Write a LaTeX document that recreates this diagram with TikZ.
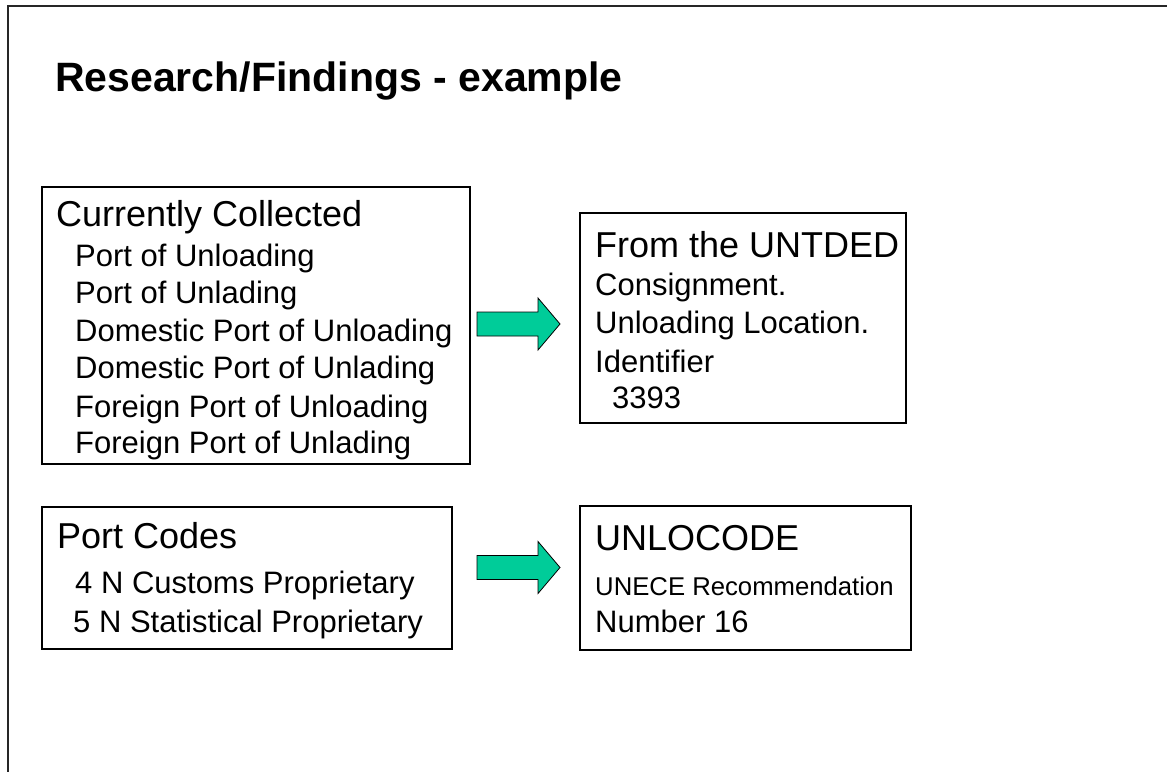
\documentclass[tikz,border=0pt]{standalone}
\usepackage{fontspec}
\setmainfont{Liberation Sans}
\definecolor{arrowgreen}{HTML}{00CC99}
\begin{document}
\begin{tikzpicture}[x=1pt,y=-1pt,
  box/.style={draw=black, line width=2.6pt, inner sep=0pt, fill=none},
  ttl/.style={anchor=base west, inner sep=0pt, font=\fontsize{41}{46}\selectfont\bfseries},
  hdr/.style={anchor=base west, inner sep=0pt, font=\fontsize{36}{40}\selectfont},
  sub/.style={anchor=base west, inner sep=0pt, font=\fontsize{31}{36}\selectfont},
  tiny/.style={anchor=base west, inner sep=0pt, font=\fontsize{25.7}{30}\selectfont},
  blockarrow/.style={fill=arrowgreen, draw=black, line width=0.8pt, line join=miter},
  frame/.style={draw=black!85, line width=2.2pt}
]
\useasboundingbox (0,0) rectangle (1167,771);
\fill[white] (0,0) rectangle (1167,771);
% slide frame (only top and left edges visible)
\coordinate (fbl) at (8,775);
\coordinate (ftl) at (8,6);
\coordinate (ftr) at (1170,6);
\draw[frame] (fbl) -- (ftl) -- (ftr);

% title
\node[ttl] (title) at (55,91) {Research/Findings - example};

% boxes
\node[box, minimum width=428pt, minimum height=277pt] (b1) at (256,325.5) {};
\node[box, minimum width=326pt, minimum height=210pt] (b2) at (743,318) {};
\node[box, minimum width=410pt, minimum height=142pt] (b3) at (247,578) {};
\node[box, minimum width=331pt, minimum height=144pt] (b4) at (745.5,578) {};

% box 1 text
\node[hdr] (t1h) at (56,226) {Currently Collected};
\node[sub] (t1a) at (75,266) {Port of Unloading};
\node[sub] (t1b) at (75,303) {Port of Unlading};
\node[sub] (t1c) at (75,341) {Domestic Port of Unloading};
\node[sub] (t1d) at (75,378) {Domestic Port of Unlading};
\node[sub] (t1e) at (75,417) {Foreign Port of Unloading};
\node[sub] (t1f) at (75,453) {Foreign Port of Unlading};

% box 2 text
\node[hdr] (t2h) at (595,257) {From the UNTDED};
\node[sub] (t2a) at (595,295) {Consignment.};
\node[sub] (t2b) at (595,333) {Unloading Location.};
\node[sub] (t2c) at (595,372) {Identifier};
\node[sub] (t2d) at (612,408) {3393};

% box 3 text
\node[hdr] (t3h) at (57,548) {Port Codes};
\node[sub] (t3a) at (75,593) {4 N Customs Proprietary};
\node[sub] (t3b) at (73,632) {5 N Statistical Proprietary};

% box 4 text
\node[hdr] (t4h) at (595,550) {UNLOCODE};
\node[tiny] (t4a) at (595,595) {UNECE Recommendation};
\node[sub] (t4b) at (595,632) {Number 16};

% block arrows
\coordinate (a1) at (477,324.5);
\coordinate (a2) at (477,568);
\draw[blockarrow] (a1) ++(0,-12.5) -- ++(61,0) -- ++(0,-14) -- ++(22,26) -- ++(-22,26) -- ++(0,-14) -- ++(-61,0) -- cycle;
\draw[blockarrow] (a2) ++(0,-12.5) -- ++(61,0) -- ++(0,-14) -- ++(22,26) -- ++(-22,26) -- ++(0,-14) -- ++(-61,0) -- cycle;
\end{tikzpicture}
\end{document}
